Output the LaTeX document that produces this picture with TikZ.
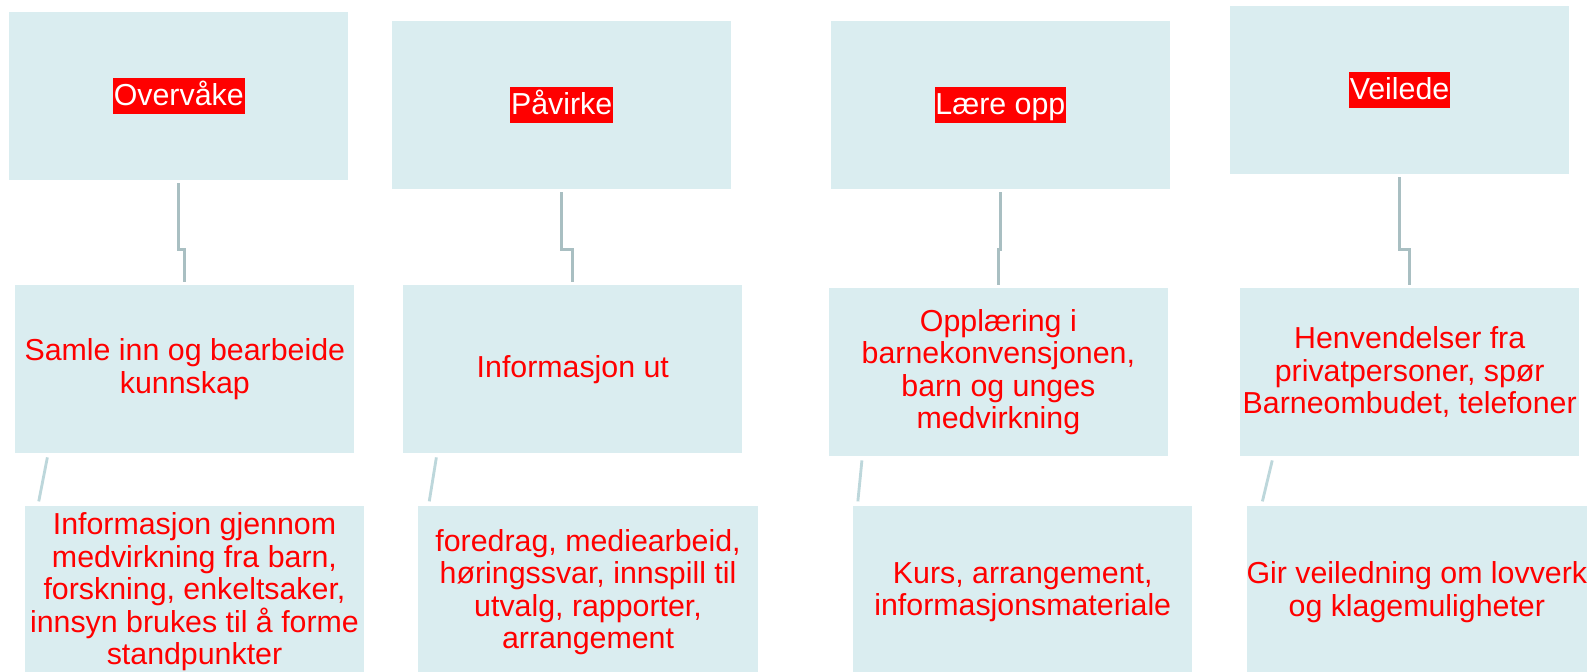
\documentclass[tikz,border=0pt]{standalone}
\usepackage{fontspec}
\setmainfont{Liberation Sans}
\usepackage{tikz}
\usetikzlibrary{positioning}
\definecolor{PanelBlue}{HTML}{DAEDF0}
\definecolor{LinkGrey}{HTML}{A9BFC2}
\definecolor{LinkPale}{HTML}{BDD7DB}
\definecolor{TagRed}{HTML}{FF0000}
\tikzset{
  headbox/.style={rectangle, fill=PanelBlue, minimum width=6.68cm, minimum height=3.3cm},
  headtag/.style={rectangle, fill=TagRed, text=white, inner xsep=0.5pt, inner ysep=0pt, text height=0.54cm, text depth=0.18cm, font=\fontsize{17}{18.2}\selectfont},
  taskbox/.style={rectangle, fill=PanelBlue, minimum width=6.68cm, minimum height=3.3cm, inner sep=0pt, align=center, text=TagRed, font=\fontsize{17}{18.2}\selectfont},
  detailbox/.style={taskbox, minimum height=3.4cm},
  link/.style={draw=LinkGrey, line width=1.6pt, shorten <=0.06cm, shorten >=0.06cm},
  palelink/.style={draw=LinkPale, line width=1.6pt}
}

\begin{document}
\begin{tikzpicture}
  \useasboundingbox (0,0) rectangle (31.33,13.22);
  \coordinate (jog) at (0,8.31);

  % top row
  \node[headbox] (a1) at (3.52,11.33) {};
  \node[headtag] (a1tag) at (a1) {Overvåke};
  \node[headbox] (b1) at (11.06,11.15) {};
  \node[headtag] (b1tag) at (b1) {Påvirke};
  \node[headbox] (c1) at (19.70,11.15) {};
  \node[headtag] (c1tag) at (c1) {Lære opp};
  \node[headbox] (d1) at (27.56,11.45) {};
  \node[headtag] (d1tag) at (d1) {Veilede};

  % middle row
  \node[taskbox] (a2) at (3.64,5.95) {Samle inn og bearbeide\\kunnskap};
  \node[taskbox] (b2) at (11.28,5.95) {Informasjon ut};
  \node[taskbox] (c2) at (19.66,5.89) {Opplæring i\\barnekonvensjonen,\\barn og unges\\medvirkning};
  \node[taskbox] (d2) at (27.76,5.89) {Henvendelser fra\\privatpersoner, spør\\Barneombudet, telefoner};

  % bottom row
  \node[detailbox] (a3) at (3.83,1.56) {Informasjon gjennom\\medvirkning fra barn,\\forskning, enkeltsaker,\\innsyn brukes til å forme\\standpunkter};
  \node[detailbox] (b3) at (11.58,1.56) {foredrag, mediearbeid,\\høringssvar, innspill til\\utvalg, rapporter,\\arrangement};
  \node[detailbox] (c3) at (20.14,1.56) {Kurs, arrangement,\\informasjonsmateriale};
  \node[detailbox] (d3) at (27.90,1.56) {Gir veiledning om lovverk\\og klagemuligheter};

  % connectors
  \draw[link] (a1.south) -- (a1.south |- jog) -| (a2.north);
  \draw[link] (b1.south) -- (b1.south |- jog) -| (b2.north);
  \draw[link] (c1.south) -- (c1.south |- jog) -| (c2.north);
  \draw[link] (d1.south) -- (d1.south |- jog) -| (d2.north);

  \draw[palelink] ([xshift=0.64cm,yshift=-0.08cm]a2.south west) -- ([xshift=0.28cm,yshift=0.08cm]a3.north west);
  \draw[palelink] ([xshift=0.66cm,yshift=-0.08cm]b2.south west) -- ([xshift=0.22cm,yshift=0.08cm]b3.north west);
  \draw[palelink] ([xshift=0.66cm,yshift=-0.08cm]c2.south west) -- ([xshift=0.10cm,yshift=0.08cm]c3.north west);
  \draw[palelink] ([xshift=0.64cm,yshift=-0.08cm]d2.south west) -- ([xshift=0.32cm,yshift=0.08cm]d3.north west);
\end{tikzpicture}
\end{document}
